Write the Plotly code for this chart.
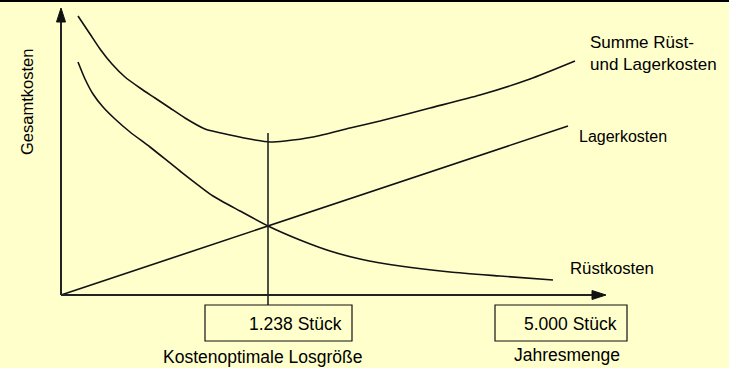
import plotly.graph_objects as go

# Cost curves (abstract units: quantity on x, cost on y)
lager_menge = [0, 507]
lager_kosten = [0, 169]

ruest_menge = [17, 24, 32, 42, 54, 69, 89, 119, 152, 179, 207, 239, 269, 299, 339, 389, 439, 492]
ruest_kosten = [233, 216, 201, 188, 176, 163, 148, 124, 99, 84, 69, 55, 44, 36, 29, 23, 19, 15]

summe_menge = [17, 29, 39, 51, 64, 79, 94, 109, 124, 144, 169, 194, 209, 224, 252, 289, 319, 369, 419, 469, 514]
summe_kosten = [279, 261, 246, 231, 218, 207, 197, 187, 177, 166, 160, 155, 153, 154, 158, 167, 174, 187, 200, 216, 234]

# Optimal lot size marker and box texts
opt_menge = 207
opt_top = 162
box_labels = ["1.238 Stück", "5.000 Stück"]
box_captions = ["Kostenoptimale Losgröße", "Jahresmenge"]
box_left = [144, 434]
box_right = [291, 566]

x_end, y_end = 545, 287
head_len, head_half = 14, 4.5

BG = "#FFFFCC"
INK = "#111111"
FONT = "Liberation Sans, Arial, sans-serif"

fig = go.Figure()
curve = dict(color=INK, width=1.6, shape="spline", smoothing=0.6)
fig.add_trace(go.Scatter(x=lager_menge, y=lager_kosten, mode="lines",
                         line=dict(color=INK, width=1.6), hoverinfo="skip"))
fig.add_trace(go.Scatter(x=ruest_menge, y=ruest_kosten, mode="lines", line=curve, hoverinfo="skip"))
fig.add_trace(go.Scatter(x=summe_menge, y=summe_kosten, mode="lines", line=curve, hoverinfo="skip"))

shapes = []
axis_line = dict(color="#222222", width=2)
# axes with arrowheads
shapes.append(dict(type="line", x0=0, y0=0, x1=0, y1=y_end - head_len, line=axis_line))
shapes.append(dict(type="line", x0=0, y0=0, x1=x_end - head_len, y1=0, line=axis_line))
shapes.append(dict(type="path",
                   path=f"M {-head_half},{y_end - head_len} L {head_half},{y_end - head_len} L 0,{y_end} Z",
                   fillcolor=INK, line=dict(color=INK, width=1)))
shapes.append(dict(type="path",
                   path=f"M {x_end - head_len},{-head_half} L {x_end - head_len},{head_half} L {x_end},0 Z",
                   fillcolor=INK, line=dict(color=INK, width=1)))
# optimum drop line
shapes.append(dict(type="line", x0=opt_menge, y0=opt_top, x1=opt_menge, y1=-10,
                   line=dict(color="#222222", width=1.6)))
# value boxes
for l, r in zip(box_left, box_right):
    shapes.append(dict(type="rect", x0=l, x1=r, y0=-10, y1=-46,
                       line=dict(color=INK, width=1.2), fillcolor="rgba(0,0,0,0)"))
# top rule
shapes.append(dict(type="line", xref="paper", yref="paper", x0=0, x1=1, y0=1, y1=1,
                   line=dict(color="#000000", width=4)))

ann = []
def label(text, x, y, size, xanchor="left", **kw):
    ann.append(dict(text=text, x=x, y=y, xanchor=xanchor, yanchor="middle", showarrow=False,
                    font=dict(family=FONT, size=size, color="#000000"), **kw))

label("Summe Rüst-<br>und Lagerkosten", 527, 242, 17, align="left")
label("Lagerkosten", 516, 159, 16)
label("Rüstkosten", 507, 27, 16.8)
label("Gesamtkosten", -34, 193, 16.5, xanchor="center", textangle=-90)
for txt, r in zip(box_labels, box_right):
    label(txt, r - 8, -29, 17.5, xanchor="right")
label(box_captions[0], 201, -62, 17.5, xanchor="center")
label(box_captions[1], 506, -60, 17.5, xanchor="center")

fig.update_layout(
    width=729, height=368,
    margin=dict(l=0, r=0, t=0, b=0),
    paper_bgcolor=BG, plot_bgcolor=BG,
    showlegend=False,
    xaxis=dict(range=[-61, 668], visible=False, fixedrange=True),
    yaxis=dict(range=[-73, 295], visible=False, fixedrange=True),
    shapes=shapes, annotations=ann,
)

fig.write_html("out.html")
